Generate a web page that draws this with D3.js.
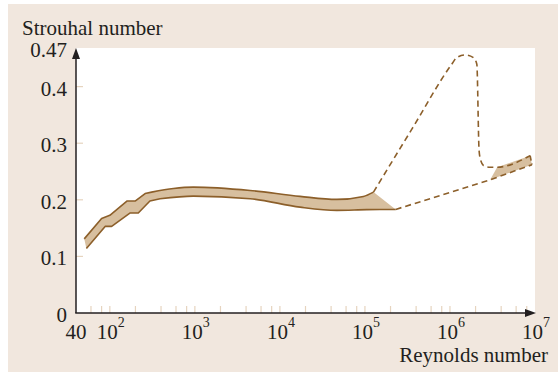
<meta charset="utf-8">

<style>
    body {
        margin: 0;
        background: #ffffff;
    }

    text {
        font-family: "Liberation Serif", "DejaVu Serif", serif;
        fill: #231f20;
    }
</style>

<body>
<script src="https://d3js.org/d3.v7.min.js"></script>
<script>

    // band of measured values, [Reynolds, Strouhal]
    const bandUpper = [[50, 0.131], [80, 0.167], [100, 0.1725], [160, 0.198], [200, 0.198],
        [260, 0.211], [310, 0.2136], [560, 0.220], [960, 0.2224], [4460, 0.2165],
        [17300, 0.206], [46700, 0.2007], [96000, 0.206], [126000, 0.2136]];
    const bandLower = [[53, 0.114], [88, 0.153], [105, 0.153], [172, 0.1766], [216, 0.1766],
        [296, 0.198], [390, 0.202], [960, 0.2065], [4460, 0.202], [17300, 0.187],
        [46700, 0.1813], [105000, 0.1826], [230000, 0.183]];
    // below this Reynolds number the band edges are straight segments
    const kinkedUpTo = 400;

    // dashed continuation
    const dashUpper = [[126000, 0.2136], [359000, 0.3257], [1050000, 0.4396], [1200000, 0.4512],
        [1510000, 0.456], [1890000, 0.4512], [2070000, 0.4396], [2200000, 0.287],
        [2300000, 0.2694], [2520000, 0.2597], [2970000, 0.2576], [3590000, 0.2576],
        [8770000, 0.278]];
    const dashLower = [[230000, 0.183], [2970000, 0.2354], [9200000, 0.262]];

    // small shaded band at the right end
    const rightUpper = [[3590000, 0.2576], [8770000, 0.278]];
    const rightLower = [[2970000, 0.2354], [9200000, 0.262]];

    const xMajor = [1e2, 1e3, 1e4, 1e5, 1e6, 1e7];
    const xStart = 40;
    const xEnd = 1e7;
    const yTicks = [0, 0.1, 0.2, 0.3, 0.4];
    const yMax = 0.47;

    let width = 558, height = 373;
    let mLeft = 76, mRight = 535, mTop = 47, mBottom = 313;

    let brown = "#8c5f2a", tan = "#d7bf9f", tickColor = "#e6d4bf";

    let svg = d3.select("body").append("svg")
        .attr("width", width)
        .attr("height", height);

    svg.append("rect")
        .attr("x", 8).attr("y", 4)
        .attr("width", width - 8).attr("height", height - 5)
        .attr("fill", "#f1e7de");

    svg.append("rect")
        .attr("x", mLeft).attr("y", mTop + 1)
        .attr("width", mRight - mLeft).attr("height", mBottom - mTop - 1)
        .attr("fill", "#ffffff");

    let xScale = d3.scaleLog().domain([xStart, xEnd]).range([mLeft, mRight]);
    let yScale = d3.scaleLinear().domain([0, yMax]).range([mBottom, mTop]);

    // ticks
    let minor = xScale.ticks().filter(function (d) {
        let m = Math.round(d / Math.pow(10, Math.floor(Math.log10(d) + 1e-9)));
        return d > xStart && (m === 2 || m === 4 || m === 6 || m === 8);
    });
    let xTickVals = minor.concat(xMajor.filter(function (d) { return d < xEnd; }));

    svg.selectAll(".xt").data(xTickVals).enter().append("line")
        .attr("x1", function (d) { return xScale(d); })
        .attr("x2", function (d) { return xScale(d); })
        .attr("y1", mBottom).attr("y2", mBottom - 7)
        .style("stroke", tickColor).style("stroke-width", 1.2);

    svg.selectAll(".yt").data(yTicks.filter(function (d) { return d > 0; })).enter().append("line")
        .attr("x1", mLeft).attr("x2", mLeft + 7)
        .attr("y1", function (d) { return yScale(d); })
        .attr("y2", function (d) { return yScale(d); })
        .style("stroke", tickColor).style("stroke-width", 1.2);

    // band
    let line = d3.line()
        .x(function (d) { return xScale(d[0]); })
        .y(function (d) { return yScale(d[1]); })
        .curve(d3.curveMonotoneX);
    let straight = d3.line()
        .x(function (d) { return xScale(d[0]); })
        .y(function (d) { return yScale(d[1]); });

    // straight kinks on the left, smooth curve on the right
    function edge(pts) {
        let k = pts.filter(function (d) { return d[0] <= kinkedUpTo; }).length;
        return straight(pts.slice(0, k)) + line(pts.slice(k - 1)).replace(/^M/, "L");
    }
    function edgeReversed(pts) {
        let k = pts.filter(function (d) { return d[0] <= kinkedUpTo; }).length;
        let smooth = pts.slice(k - 1).reverse();
        return line(smooth) + straight(pts.slice(0, k).reverse()).replace(/^M/, "L");
    }

    svg.append("path")
        .attr("d", edge(bandUpper) + edgeReversed(bandLower).replace(/^M/, "L") + "Z")
        .style("fill", tan);

    svg.append("path")
        .attr("d", straight([rightLower[0], rightUpper[0], rightUpper[1], rightLower[1]]) + "Z")
        .style("fill", tan);

    [bandUpper, bandLower].forEach(function (pts) {
        svg.append("path")
            .attr("d", edge(pts))
            .style("fill", "none").style("stroke", brown).style("stroke-width", 1.6)
            .style("stroke-linejoin", "round");
    });

    svg.append("path")
        .attr("d", line(dashUpper))
        .style("fill", "none").style("stroke", brown).style("stroke-width", 1.6)
        .style("stroke-dasharray", "6,4");
    svg.append("path")
        .attr("d", straight(dashLower))
        .style("fill", "none").style("stroke", brown).style("stroke-width", 1.6)
        .style("stroke-dasharray", "6,4");
    svg.append("path")
        .attr("d", straight([dashUpper[dashUpper.length - 1], dashLower[dashLower.length - 1]]))
        .style("fill", "none").style("stroke", brown).style("stroke-width", 1.6)
        .style("stroke-dasharray", "5,3");

    // axes
    svg.append("line")
        .attr("x1", mLeft).attr("y1", mBottom).attr("x2", mLeft).attr("y2", mTop + 6)
        .style("stroke", "#231f20").style("stroke-width", 1.5);
    svg.append("line")
        .attr("x1", mLeft - 0.75).attr("y1", mBottom).attr("x2", mRight - 6).attr("y2", mBottom)
        .style("stroke", "#231f20").style("stroke-width", 1.5);
    svg.append("path")
        .attr("d", "M" + mLeft + "," + (mTop + 1) + "L" + (mLeft - 4) + "," + (mTop + 12) + "L" + (mLeft + 4) + "," + (mTop + 12) + "Z")
        .style("fill", "#231f20");
    svg.append("path")
        .attr("d", "M" + (mRight + 1) + "," + mBottom + "L" + (mRight - 10) + "," + (mBottom - 4) + "L" + (mRight - 10) + "," + (mBottom + 4) + "Z")
        .style("fill", "#231f20");

    // labels
    svg.selectAll(".yl").data(yTicks.concat([yMax])).enter().append("text")
        .attr("x", mLeft - 9)
        .attr("y", function (d) { return yScale(d) + (d === yMax ? 10 : 9); })
        .attr("text-anchor", "end")
        .style("font-size", "21px")
        .text(function (d) { return d === 0 ? "0" : String(d); });

    svg.append("text")
        .attr("x", xScale(xStart)).attr("y", 339)
        .attr("text-anchor", "middle")
        .style("font-size", "21px")
        .text(xStart);

    let xl = svg.selectAll(".xl").data(xMajor).enter().append("text")
        .attr("x", function (d) { return xScale(d) + 1; })
        .attr("y", 339)
        .attr("text-anchor", "middle")
        .style("font-size", "21px");
    xl.append("tspan").text("10");
    xl.append("tspan")
        .attr("dy", -12)
        .style("font-size", "14px")
        .text(function (d) { return Math.round(Math.log10(d)); });

    svg.append("text")
        .attr("x", 22).attr("y", 35)
        .style("font-size", "21px")
        .text("Strouhal number");

    svg.append("text")
        .attr("x", 548).attr("y", 362)
        .attr("text-anchor", "end")
        .style("font-size", "21px")
        .text("Reynolds number");

</script>
